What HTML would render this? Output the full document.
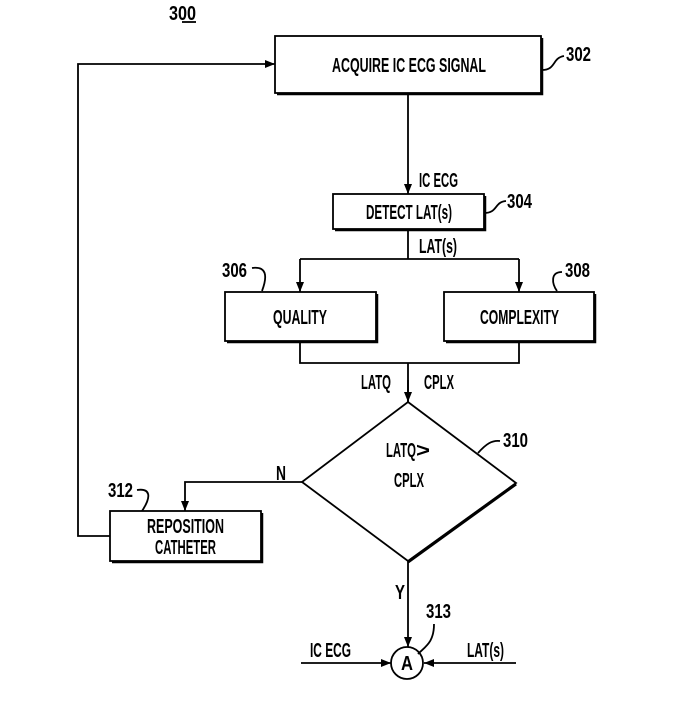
<!DOCTYPE html>
<html><head><meta charset="utf-8"><style>
html,body{margin:0;padding:0;background:#fff;width:681px;height:709px;overflow:hidden}
text{font-family:"Liberation Sans Narrow","Liberation Sans",sans-serif;font-weight:bold;fill:#000}
</style></head><body>
<svg width="681" height="709" viewBox="0 0 681 709" xmlns="http://www.w3.org/2000/svg">
<defs><marker id="a" markerWidth="10" markerHeight="8" refX="10" refY="4" orient="auto" markerUnits="userSpaceOnUse"><path d="M0,0 L10,4 L0,8 Z" fill="#000"/></marker></defs>
<g fill="none" stroke="#000" stroke-width="1.8">
<!-- boxes -->
<rect x="275" y="36" width="266" height="57"/>
<path d="M277,94 H542 V38" stroke-width="2.5"/>
<rect x="333" y="194" width="151" height="35"/>
<path d="M335,230 H485 V196" stroke-width="2.5"/>
<rect x="225" y="292" width="151" height="49"/>
<path d="M227,342 H377 V294" stroke-width="2.5"/>
<rect x="444" y="292" width="150" height="49"/>
<path d="M446,342 H595 V294" stroke-width="2.5"/>
<rect x="110" y="511" width="151" height="50"/>
<path d="M112,562 H262 V513" stroke-width="2.5"/>
<!-- diamond -->
<path d="M408,402 L516,483 L408,561 L302,482 Z"/>
<path d="M516,484 L408,562" stroke-width="3"/>
<!-- connectors -->
<path d="M408,93 V194" marker-end="url(#a)"/>
<path d="M408,229 V259 M300,259 H519"/>
<path d="M300,259 V292" marker-end="url(#a)"/>
<path d="M519,259 V292" marker-end="url(#a)"/>
<path d="M300,341 V363 H519 V341 M408,363 V402" />
<path d="M408,380 V402" marker-end="url(#a)"/>
<path d="M302,482 H185 V511" marker-end="url(#a)"/>
<path d="M110,536 H78 V64 H275" marker-end="url(#a)"/>
<path d="M408,561 V647" marker-end="url(#a)"/>
<circle cx="407" cy="663" r="16"/>
<path d="M301,663 H391" marker-end="url(#a)"/>
<path d="M516,663 H424" marker-end="url(#a)"/>
<!-- leader squiggles -->
<path d="M542,70 C556,70 552,58 564,56"/>
<path d="M484,213 C498,213 494,202 506,201"/>
<path d="M252,268 C266,266 268,275 262,291"/>
<path d="M562,272 C550,272 552,284 557,291"/>
<path d="M478,453 C486,444 492,440 500,441"/>
<path d="M137,490 C150,488 152,496 142,511"/>
<path d="M418,654 C426,646 434,642 434,624"/>
<path d="M182,22 H196"/>
</g>
<g font-size="20">
<text x="332" y="72" textLength="154" lengthAdjust="spacingAndGlyphs">ACQUIRE IC ECG SIGNAL</text>
<text x="366" y="219" textLength="86" lengthAdjust="spacingAndGlyphs">DETECT LAT(s)</text>
<text x="273" y="324" textLength="54" lengthAdjust="spacingAndGlyphs">QUALITY</text>
<text x="480" y="324" textLength="79" lengthAdjust="spacingAndGlyphs">COMPLEXITY</text>
<text x="147" y="533" textLength="77" lengthAdjust="spacingAndGlyphs">REPOSITION</text>
<text x="155" y="554" textLength="61" lengthAdjust="spacingAndGlyphs">CATHETER</text>
<text x="386" y="457" textLength="30" lengthAdjust="spacingAndGlyphs">LATQ</text>
<text x="416" y="457" textLength="14" lengthAdjust="spacingAndGlyphs">&gt;</text>
<text x="394" y="487" textLength="30" lengthAdjust="spacingAndGlyphs">CPLX</text>
<text x="419" y="187" textLength="39" lengthAdjust="spacingAndGlyphs">IC ECG</text>
<text x="419" y="253" textLength="38" lengthAdjust="spacingAndGlyphs">LAT(s)</text>
<text x="361" y="389" textLength="30" lengthAdjust="spacingAndGlyphs">LATQ</text>
<text x="424" y="389" textLength="30" lengthAdjust="spacingAndGlyphs">CPLX</text>
<text x="276" y="480" textLength="10" lengthAdjust="spacingAndGlyphs">N</text>
<text x="395" y="599" textLength="10" lengthAdjust="spacingAndGlyphs">Y</text>
<text x="310" y="657" textLength="41" lengthAdjust="spacingAndGlyphs">IC ECG</text>
<text x="467" y="657" textLength="37" lengthAdjust="spacingAndGlyphs">LAT(s)</text>
<text x="401" y="670" textLength="12" lengthAdjust="spacingAndGlyphs">A</text>
<text x="169" y="20" textLength="27" lengthAdjust="spacingAndGlyphs">300</text>
<text x="566" y="61" textLength="25" lengthAdjust="spacingAndGlyphs">302</text>
<text x="507" y="208" textLength="25" lengthAdjust="spacingAndGlyphs">304</text>
<text x="222" y="277" textLength="25" lengthAdjust="spacingAndGlyphs">306</text>
<text x="565" y="277" textLength="25" lengthAdjust="spacingAndGlyphs">308</text>
<text x="503" y="447" textLength="25" lengthAdjust="spacingAndGlyphs">310</text>
<text x="108" y="497" textLength="25" lengthAdjust="spacingAndGlyphs">312</text>
<text x="426" y="618" textLength="25" lengthAdjust="spacingAndGlyphs">313</text>
</g>
</svg>
</body></html>
